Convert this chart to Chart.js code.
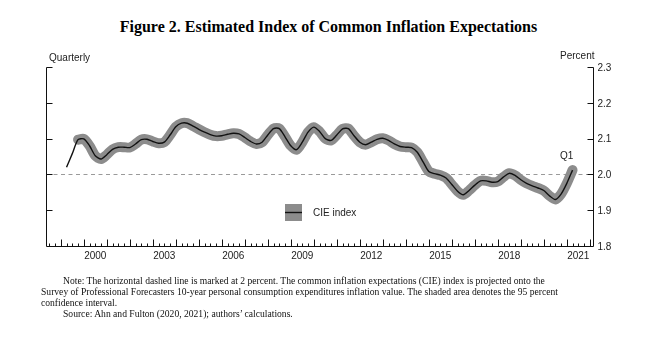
<!DOCTYPE html>
<html>
<head>
<meta charset="utf-8">
<script src="https://cdn.jsdelivr.net/npm/chart.js@4.4.1/dist/chart.umd.min.js"></script>
<style>
  html, body { margin: 0; padding: 0; background: #fff; }
  #wrap { position: relative; width: 651px; height: 348px; overflow: hidden; }
  #fig { position: absolute; left: 0; top: 0; }
  .title { position: absolute; left: 3px; width: 651px; top: 18px; text-align: center;
           font: bold 16px "Liberation Serif", "Times New Roman", serif; color: #000; }
  .note { position: absolute; left: 41px; top: 275px; white-space: nowrap;
          font: 9.6px/11px "Liberation Serif", "Times New Roman", serif; color: #111; }
  .note .ind { padding-left: 22px; }
</style>
</head>
<body>
<div id="wrap">
  <div class="title">Figure 2. Estimated Index of Common Inflation Expectations</div>
  <canvas id="fig" width="651" height="348"></canvas>
  <div class="note">
    <div class="ind">Note: The horizontal dashed line is marked at 2 percent. The common inflation expectations (CIE) index is projected onto the</div>
    <div>Survey of Professional Forecasters 10-year personal consumption expenditures inflation value. The shaded area denotes the 95 percent</div>
    <div>confidence interval.</div>
    <div class="ind">Source: Ahn and Fulton (2020, 2021); authors’ calculations.</div>
  </div>
</div>
<script>
// quarterly CIE index, 1999Q1 .. 2021Q1
const firstYear = 1999;
const cieIndex = [
  2.020, 2.058, 2.097,
  2.099, 2.080, 2.052, 2.043,
  2.055, 2.070, 2.076, 2.076,
  2.075, 2.085, 2.097, 2.098,
  2.092, 2.087, 2.090, 2.110,
  2.133, 2.143, 2.143, 2.135,
  2.126, 2.118, 2.111, 2.107,
  2.108, 2.112, 2.115, 2.113,
  2.103, 2.092, 2.085, 2.090,
  2.110, 2.128, 2.128, 2.105,
  2.080, 2.069, 2.090, 2.118,
  2.132, 2.120, 2.100, 2.095,
  2.110, 2.127, 2.128, 2.108,
  2.090, 2.083, 2.090, 2.098,
  2.101, 2.095, 2.085, 2.078,
  2.076, 2.075, 2.062, 2.035,
  2.008, 2.002, 1.998, 1.990,
  1.972, 1.953, 1.943, 1.955,
  1.970, 1.982, 1.982, 1.978,
  1.980, 1.993, 2.003, 1.997,
  1.985, 1.975, 1.968, 1.962,
  1.955, 1.940, 1.930, 1.945,
  1.975, 2.012
];
const bandFrom = 2;          // confidence band starts with the third quarter
const yTicks = [1.8, 1.9, 2.0, 2.1, 2.2, 2.3];
const yearLabels = [2000, 2003, 2006, 2009, 2012, 2015, 2018, 2021];
const refLevel = 2.0;

// quarter labels and positions on a decimal-year axis (quarter plotted at its end)
const quarters = [];
const quarterX = [];
cieIndex.forEach((_, i) => {
  const y = firstYear + Math.floor(i / 4), q = (i % 4) + 1;
  quarters.push(y + 'Q' + q);
  quarterX.push(y + q / 4);
});

const linePts = cieIndex.map((v, i) => ({ x: quarterX[i], y: v }));
const bandPts = cieIndex.map((v, i) => ({ x: quarterX[i], y: i < bandFrom ? null : v }));

const FONT = '10px "Liberation Sans", Arial, sans-serif';
const TXT = '#222';

const frame = {
  id: 'frame',
  beforeDatasetsDraw(chart) {
    const { ctx, chartArea: a, scales: { y } } = chart;
    const py = Math.round(y.getPixelForValue(refLevel)) + 0.5;
    ctx.save();
    ctx.strokeStyle = '#9a9a9a';
    ctx.lineWidth = 1;
    ctx.setLineDash([4, 3.5]);
    ctx.beginPath();
    ctx.moveTo(a.left, py);
    ctx.lineTo(a.right, py);
    ctx.stroke();
    ctx.restore();
  },
  afterDatasetsDraw(chart) {
    const { ctx, chartArea: a, scales: { x, y } } = chart;
    const L = Math.round(a.left) + 0.5, R = Math.round(a.right) + 0.5, B = Math.round(a.bottom) + 0.5;
    const T = Math.round(y.getPixelForValue(2.3)) + 0.5;
    ctx.save();
    ctx.strokeStyle = '#111';
    ctx.lineWidth = 1;
    ctx.beginPath();
    // left, right and bottom axis lines
    ctx.moveTo(L, T); ctx.lineTo(L, B); ctx.lineTo(R, B); ctx.lineTo(R, T);
    // y ticks on both sides, pointing inward
    yTicks.forEach(v => {
      if (v === 1.8) return;
      const py = Math.round(y.getPixelForValue(v)) + 0.5;
      ctx.moveTo(L, py); ctx.lineTo(L + 6, py);
      ctx.moveTo(R, py); ctx.lineTo(R - 6, py);
    });
    // quarter ticks, taller at each year
    for (let t = Math.ceil(x.min * 4) / 4; t < x.max; t += 0.25) {
      const px = Math.round(x.getPixelForValue(t)) + 0.5;
      const h = Number.isInteger(t) ? 7 : 3;
      ctx.moveTo(px, B); ctx.lineTo(px, B - h);
    }
    ctx.stroke();

    ctx.fillStyle = TXT;
    ctx.font = FONT;
    ctx.textBaseline = 'middle';
    ctx.textAlign = 'left';
    yTicks.forEach(v => {
      ctx.fillText(v.toFixed(1), R + 4, y.getPixelForValue(v) + 1);
    });
    ctx.textAlign = 'center';
    yearLabels.forEach(yr => {
      ctx.fillText(String(yr), x.getPixelForValue(yr + 0.5), B + 10);
    });
    ctx.textAlign = 'left';
    ctx.fillText('Quarterly', 49, 58);
    ctx.textAlign = 'right';
    ctx.fillText('Percent', R + 1, 56);

    // label on the latest quarter
    const last = cieIndex.length - 1;
    ctx.textAlign = 'center';
    ctx.fillText(quarters[last].slice(4), x.getPixelForValue(quarterX[last]) - 6, y.getPixelForValue(cieIndex[last]) - 14);

    // legend
    ctx.fillStyle = '#8c8c8c';
    ctx.fillRect(285, 204, 17, 17);
    ctx.strokeStyle = '#111';
    ctx.lineWidth = 1.4;
    ctx.beginPath();
    ctx.moveTo(285, 212.5); ctx.lineTo(302, 212.5);
    ctx.stroke();
    ctx.fillStyle = TXT;
    ctx.textAlign = 'left';
    ctx.fillText(chart.data.datasets[0].label, 313, 213);
    ctx.restore();
  }
};

new Chart(document.getElementById('fig'), {
  type: 'line',
  data: {
    datasets: [
      { label: 'CIE index', data: linePts, borderColor: '#111', borderWidth: 1.4,
        pointRadius: 0, tension: 0.25, order: 1 },
      { label: '95 percent band', data: bandPts, borderColor: '#8c8c8c', borderWidth: 10,
        borderCapStyle: 'round', borderJoinStyle: 'round', pointRadius: 0, tension: 0.25,
        spanGaps: false, order: 2 }
    ]
  },
  options: {
    responsive: false,
    animation: false,
    devicePixelRatio: 1,
    layout: { padding: { left: 46, right: 58, top: 67, bottom: 102 } },
    plugins: { legend: { display: false }, tooltip: { enabled: false } },
    scales: {
      x: { type: 'linear', min: 1998.357, max: 2022.139, display: false },
      y: { min: 1.8, max: 2.3, display: false }
    }
  },
  plugins: [frame]
});
</script>
</body>
</html>
